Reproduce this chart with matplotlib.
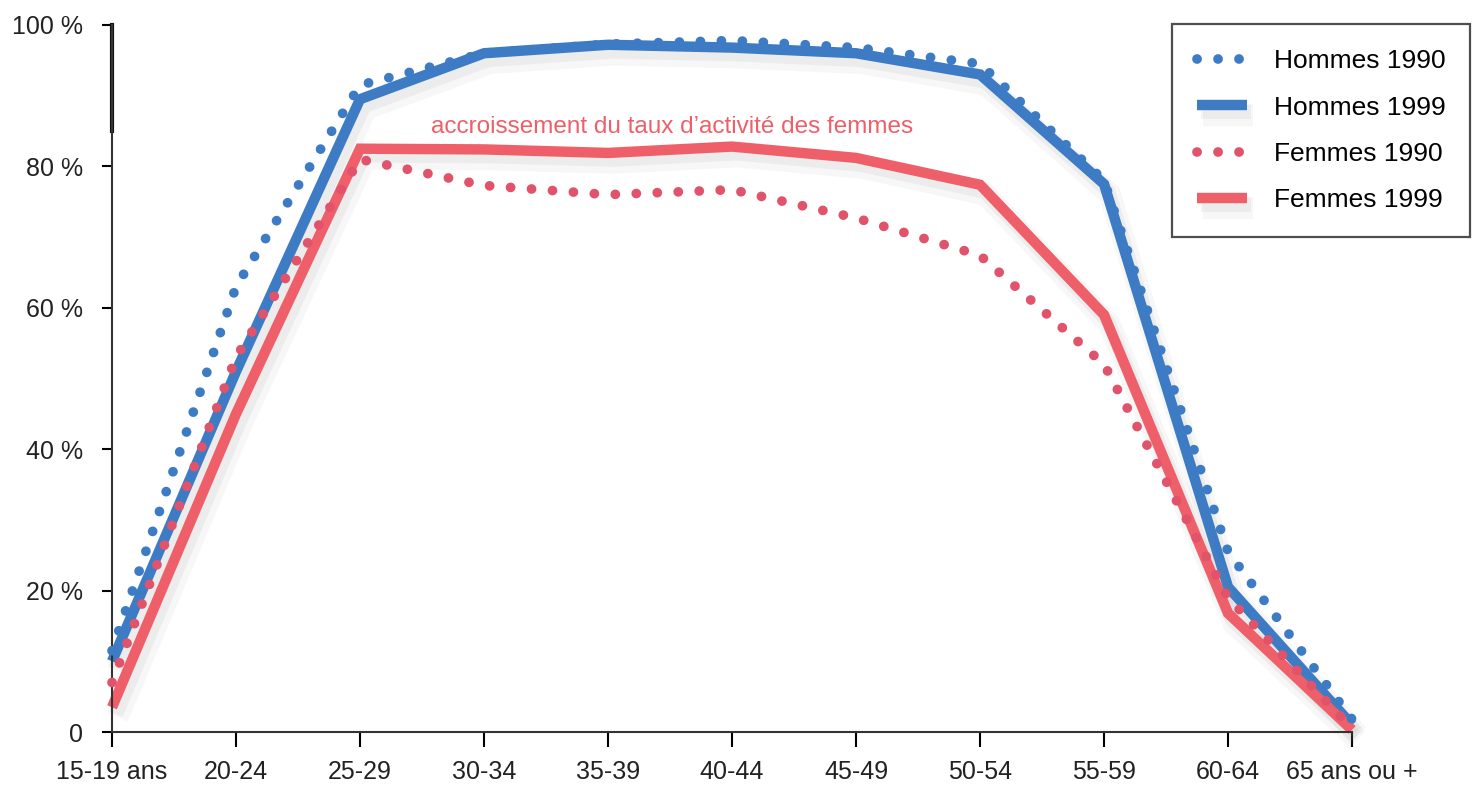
import matplotlib
matplotlib.use('Agg')
import matplotlib.pyplot as plt
import matplotlib.patheffects as pe
import numpy as np

# taux d'activité par tranche d'âge (%)
categories = ['15-19 ans', '20-24', '25-29', '30-34', '35-39', '40-44',
              '45-49', '50-54', '55-59', '60-64', '65 ans ou +']
hommes_1990 = [11.5, 63, 91.5, 96, 97.3, 97.8, 96.8, 94.5, 78, 25.5, 1.8]
hommes_1999 = [10, 51, 89.5, 96, 97.2, 96.8, 96, 93, 77.5, 20.5, 1]
femmes_1990 = [7, 53, 81, 77.3, 76, 76.7, 72.7, 67.4, 52, 19, 0.5]
femmes_1999 = [3.5, 45, 82.5, 82.4, 81.9, 82.8, 81.2, 77.4, 59, 16.8, 0.3]
yticks = [0, 20, 40, 60, 80, 100]
ytick_labels = ['0', '20 %', '40 %', '60 %', '80 %', '100 %']

blue = '#3d7cc5'
red = '#ef5f69'
red_dot = '#e0536a'

plt.rcParams['font.family'] = ['Liberation Sans', 'DejaVu Sans']

fig = plt.figure(figsize=(14.72, 7.85), dpi=100)
ax = fig.add_axes([0.0761, 0.0675, 0.8424, 0.9007])

x = np.arange(len(categories))
# ombre portée douce sous les traits pleins
shadow = [pe.SimpleLineShadow(offset=(4, -7), shadow_color='#909090', alpha=0.07, linewidth=16),
          pe.SimpleLineShadow(offset=(3, -5), shadow_color='#909090', alpha=0.10, linewidth=10),
          pe.Normal()]
dots = (0, (0.01, 2.15))

ax.plot(x, hommes_1990, color=blue, lw=7, linestyle=dots, dash_capstyle='round',
        label='Hommes 1990', clip_on=False, zorder=3)
ax.plot(x, hommes_1999, color=blue, lw=7.5, solid_joinstyle='miter', solid_capstyle='butt',
        label='Hommes 1999', clip_on=False, zorder=2, path_effects=shadow)
ax.plot(x, femmes_1990, color=red_dot, lw=7, linestyle=dots, dash_capstyle='round',
        label='Femmes 1990', clip_on=False, zorder=3)
ax.plot(x, femmes_1999, color=red, lw=7.5, solid_joinstyle='miter', solid_capstyle='butt',
        label='Femmes 1999', clip_on=False, zorder=2, path_effects=shadow)

ax.text(4.52, 85.6, 'accroissement du taux d\u2019activité des femmes', color=red,
        fontsize=17.5, ha='center', va='center')

ax.set_xlim(0, 10)
ax.set_ylim(0, 100)
ax.set_xticks(x)
ax.set_xticklabels(categories, fontsize=18, color='#222222')
ax.set_yticks(yticks)
ax.set_yticklabels(ytick_labels, fontsize=18, color='#222222')
ax.tick_params(axis='x', direction='out', length=11, width=1.5, pad=9)
ax.tick_params(axis='y', direction='out', length=7, width=1.5, pad=14)

for s in ['top', 'right']:
    ax.spines[s].set_visible(False)
for s in ['left', 'bottom']:
    ax.spines[s].set_linewidth(1.5)
    ax.spines[s].set_color('#333333')
# partie haute de l'axe plus épaisse
ax.axvline(0, ymin=0.85, ymax=1.0, color='#111111', lw=3, clip_on=False)

leg = fig.legend(loc='upper left', bbox_to_anchor=(1172 / 1472, 0.9694),
                 fontsize=19, frameon=True, fancybox=False, handlelength=1.9,
                 handletextpad=1.0, borderpad=0.95, labelspacing=0.85,
                 borderaxespad=0)
leg.get_frame().set_edgecolor('#222222')
leg.get_frame().set_linewidth(1.6)

fig.savefig('out.png', dpi=100)
